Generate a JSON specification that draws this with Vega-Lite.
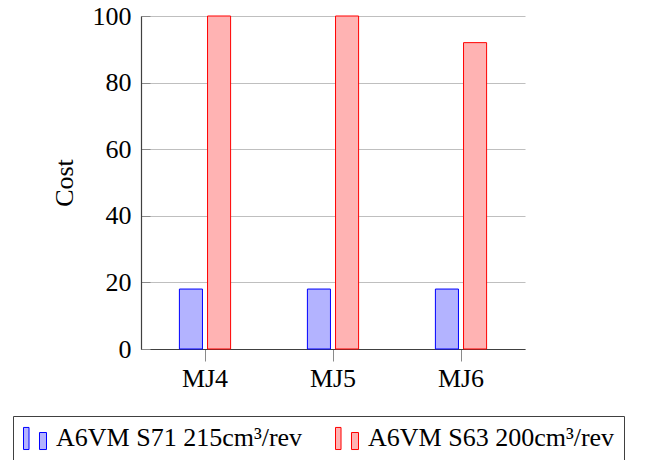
{
  "$schema": "https://vega.github.io/schema/vega-lite/v6.json",
  "width": 384,
  "height": 333,
  "autosize": {"type": "none"},
  "padding": {"left": 141, "top": 16, "right": 131, "bottom": 111},
  "background": "white",
  "data": {
    "values": [
      {"model": "MJ4", "series": "A6VM S71 215cm³/rev", "cost": 18},
      {"model": "MJ4", "series": "A6VM S63 200cm³/rev", "cost": 100},
      {"model": "MJ5", "series": "A6VM S71 215cm³/rev", "cost": 18},
      {"model": "MJ5", "series": "A6VM S63 200cm³/rev", "cost": 100},
      {"model": "MJ6", "series": "A6VM S71 215cm³/rev", "cost": 18},
      {"model": "MJ6", "series": "A6VM S63 200cm³/rev", "cost": 92}
    ]
  },
  "config": {
    "font": "'Liberation Serif', 'DejaVu Serif', serif",
    "view": {"stroke": null},
    "axis": {
      "labelFont": "'Liberation Serif', 'DejaVu Serif', serif",
      "titleFont": "'Liberation Serif', 'DejaVu Serif', serif",
      "labelFontSize": 26,
      "titleFontSize": 26,
      "titleFontWeight": "normal",
      "labelColor": "#000",
      "titleColor": "#000",
      "domainColor": "#404040",
      "tickColor": "#8a8a8a",
      "domainWidth": 1.2,
      "tickWidth": 1
    },
    "legend": {
      "labelFont": "'Liberation Serif', 'DejaVu Serif', serif",
      "labelFontSize": 26,
      "labelFontWeight": "normal",
      "labelColor": "#000",
      "labelLimit": 500
    }
  },
  "mark": {"type": "bar", "strokeWidth": 1, "fillOpacity": 1},
  "encoding": {
    "x": {
      "field": "model",
      "type": "nominal",
      "title": null,
      "scale": {"paddingInner": 0.6, "paddingOuter": 0.3},
      "axis": {"labelAngle": 0, "tickSize": 12, "labelPadding": 4, "grid": false}
    },
    "xOffset": {
      "field": "series",
      "type": "nominal",
      "sort": ["A6VM S71 215cm³/rev", "A6VM S63 200cm³/rev"],
      "scale": {"paddingInner": 0.18, "paddingOuter": 0}
    },
    "y": {
      "field": "cost",
      "type": "quantitative",
      "title": "Cost",
      "scale": {"domain": [0, 100], "nice": false},
      "axis": {
        "values": [0, 20, 40, 60, 80, 100],
        "tickSize": -9,
        "labelPadding": 19,
        "grid": true,
        "gridColor": "#bfbfbf",
        "gridWidth": 1,
        "titlePadding": 15
      }
    },
    "fill": {
      "field": "series",
      "type": "nominal",
      "sort": ["A6VM S71 215cm³/rev", "A6VM S63 200cm³/rev"],
      "scale": {"range": ["#b3b3ff", "#ffb3b3"]},
      "legend": {
        "title": null,
        "orient": "none",
        "direction": "horizontal",
        "legendX": -128,
        "legendY": 400,
        "strokeColor": "#404040",
        "padding": 9,
        "columnPadding": 30,
        "symbolType": "M-1,-0.96H-0.52V0.96H-1Z M0.39,-0.52H1V0.96H0.39Z",
        "symbolSize": 529,
        "symbolStrokeWidth": 1,
        "labelOffset": 8,
        "encode": {
          "symbols": {
            "update": {
              "stroke": {"scale": "stroke", "field": "value"},
              "fill": {"scale": "fill", "field": "value"},
              "strokeWidth": {"value": 1}
            }
          }
        }
      }
    },
    "stroke": {
      "field": "series",
      "type": "nominal",
      "sort": ["A6VM S71 215cm³/rev", "A6VM S63 200cm³/rev"],
      "scale": {"range": ["#0000ff", "#ff0000"]},
      "legend": null
    }
  }
}
